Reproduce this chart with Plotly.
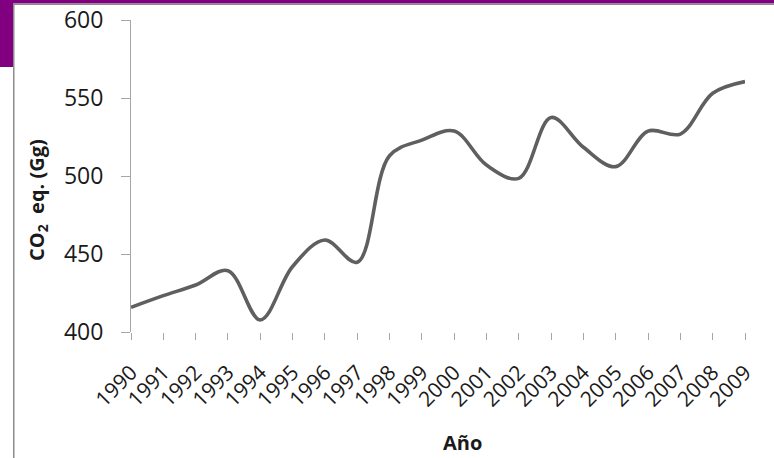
import plotly.graph_objects as go

years = list(range(1990, 2010))
co2_gg = [415.8, 423.3, 430.1, 439.3, 407.7, 442.0, 459.0, 444.7, 513.0, 523.0,
          528.8, 507.0, 498.5, 537.5, 518.4, 506.0, 528.8, 526.9, 553.0, 560.5]
y_ticks = [400, 450, 500, 550, 600]
x_title = "<b>Año</b>"
y_title = "<b>CO<sub>2</sub>  eq. (Gg)</b>"

W, H = 774, 458
L, R, T, B = 131, 29, 20, 126
pw, ph = W - L - R, H - T - B


def px(x):
    return (x - L) / pw


def py(y):
    return (H - B - y) / ph


fig = go.Figure()
fig.add_trace(go.Scatter(
    x=years, y=co2_gg, mode="lines",
    line=dict(color="#5f5f5f", width=3.6, shape="spline", smoothing=1.0),
    hoverinfo="x+y", showlegend=False,
))

font_family = "Open Sans, DejaVu Sans, sans-serif"

fig.update_layout(
    width=W, height=H, autosize=False,
    margin=dict(l=L, r=R, t=T, b=B, pad=0, autoexpand=False),
    paper_bgcolor="white", plot_bgcolor="white",
    font=dict(family=font_family, color="#1a1a1a"),
    xaxis=dict(
        range=[1990, 2009], tickvals=years, ticktext=[str(y) for y in years],
        tickangle=-45, showline=False, showgrid=False, zeroline=False,
        automargin=False,
        ticks="outside", ticklen=7, tickcolor="#a6a6a6", tickwidth=1,
        ticklabelstandoff=12,
        tickfont=dict(size=21, family=font_family, color="#1a1a1a"),
    ),
    yaxis=dict(
        range=[400, 600], tickvals=y_ticks, showline=True, linecolor="#a6a6a6",
        linewidth=1, showgrid=False, zeroline=False,
        automargin=False,
        ticks="outside", ticklen=9, tickcolor="#a6a6a6", tickwidth=1,
        ticklabelstandoff=13,
        tickfont=dict(size=23, family=font_family, color="#1a1a1a"),
    ),
    annotations=[
        dict(text=x_title, xref="paper", yref="paper", x=px(462), y=py(442),
             xanchor="center", yanchor="middle", showarrow=False,
             font=dict(size=20, family=font_family, color="#1a1a1a")),
        dict(text=y_title, xref="paper", yref="paper", x=px(38), y=py(200),
             xanchor="center", yanchor="middle", showarrow=False, textangle=-90,
             font=dict(size=20, family=font_family, color="#1a1a1a")),
    ],
    shapes=[
        dict(type="rect", xref="paper", yref="paper", x0=px(0), x1=px(W), y0=py(0), y1=py(3.5),
             fillcolor="#800080", line=dict(width=0), layer="above"),
        dict(type="rect", xref="paper", yref="paper", x0=px(0), x1=px(13), y0=py(0), y1=py(67),
             fillcolor="#800080", line=dict(width=0), layer="above"),
        dict(type="rect", xref="paper", yref="paper", x0=px(13), x1=px(W), y0=py(3.5), y1=py(5),
             fillcolor="#8c8c8c", line=dict(width=0), layer="above"),
        dict(type="rect", xref="paper", yref="paper", x0=px(13), x1=px(14.5), y0=py(3.5), y1=py(H),
             fillcolor="#8c8c8c", line=dict(width=0), layer="above"),
    ],
)

post_js = (
    "document.documentElement.style.margin='0';"
    "document.body.style.margin='0';document.body.style.padding='0';"
    "document.body.style.overflow='hidden';"
    "var d=document.getElementById('{plot_id}');"
    "d.style.position='absolute';d.style.left='0px';d.style.top='0px';"
)

fig.write_html("out.html", post_script=post_js, config={"displayModeBar": False})
